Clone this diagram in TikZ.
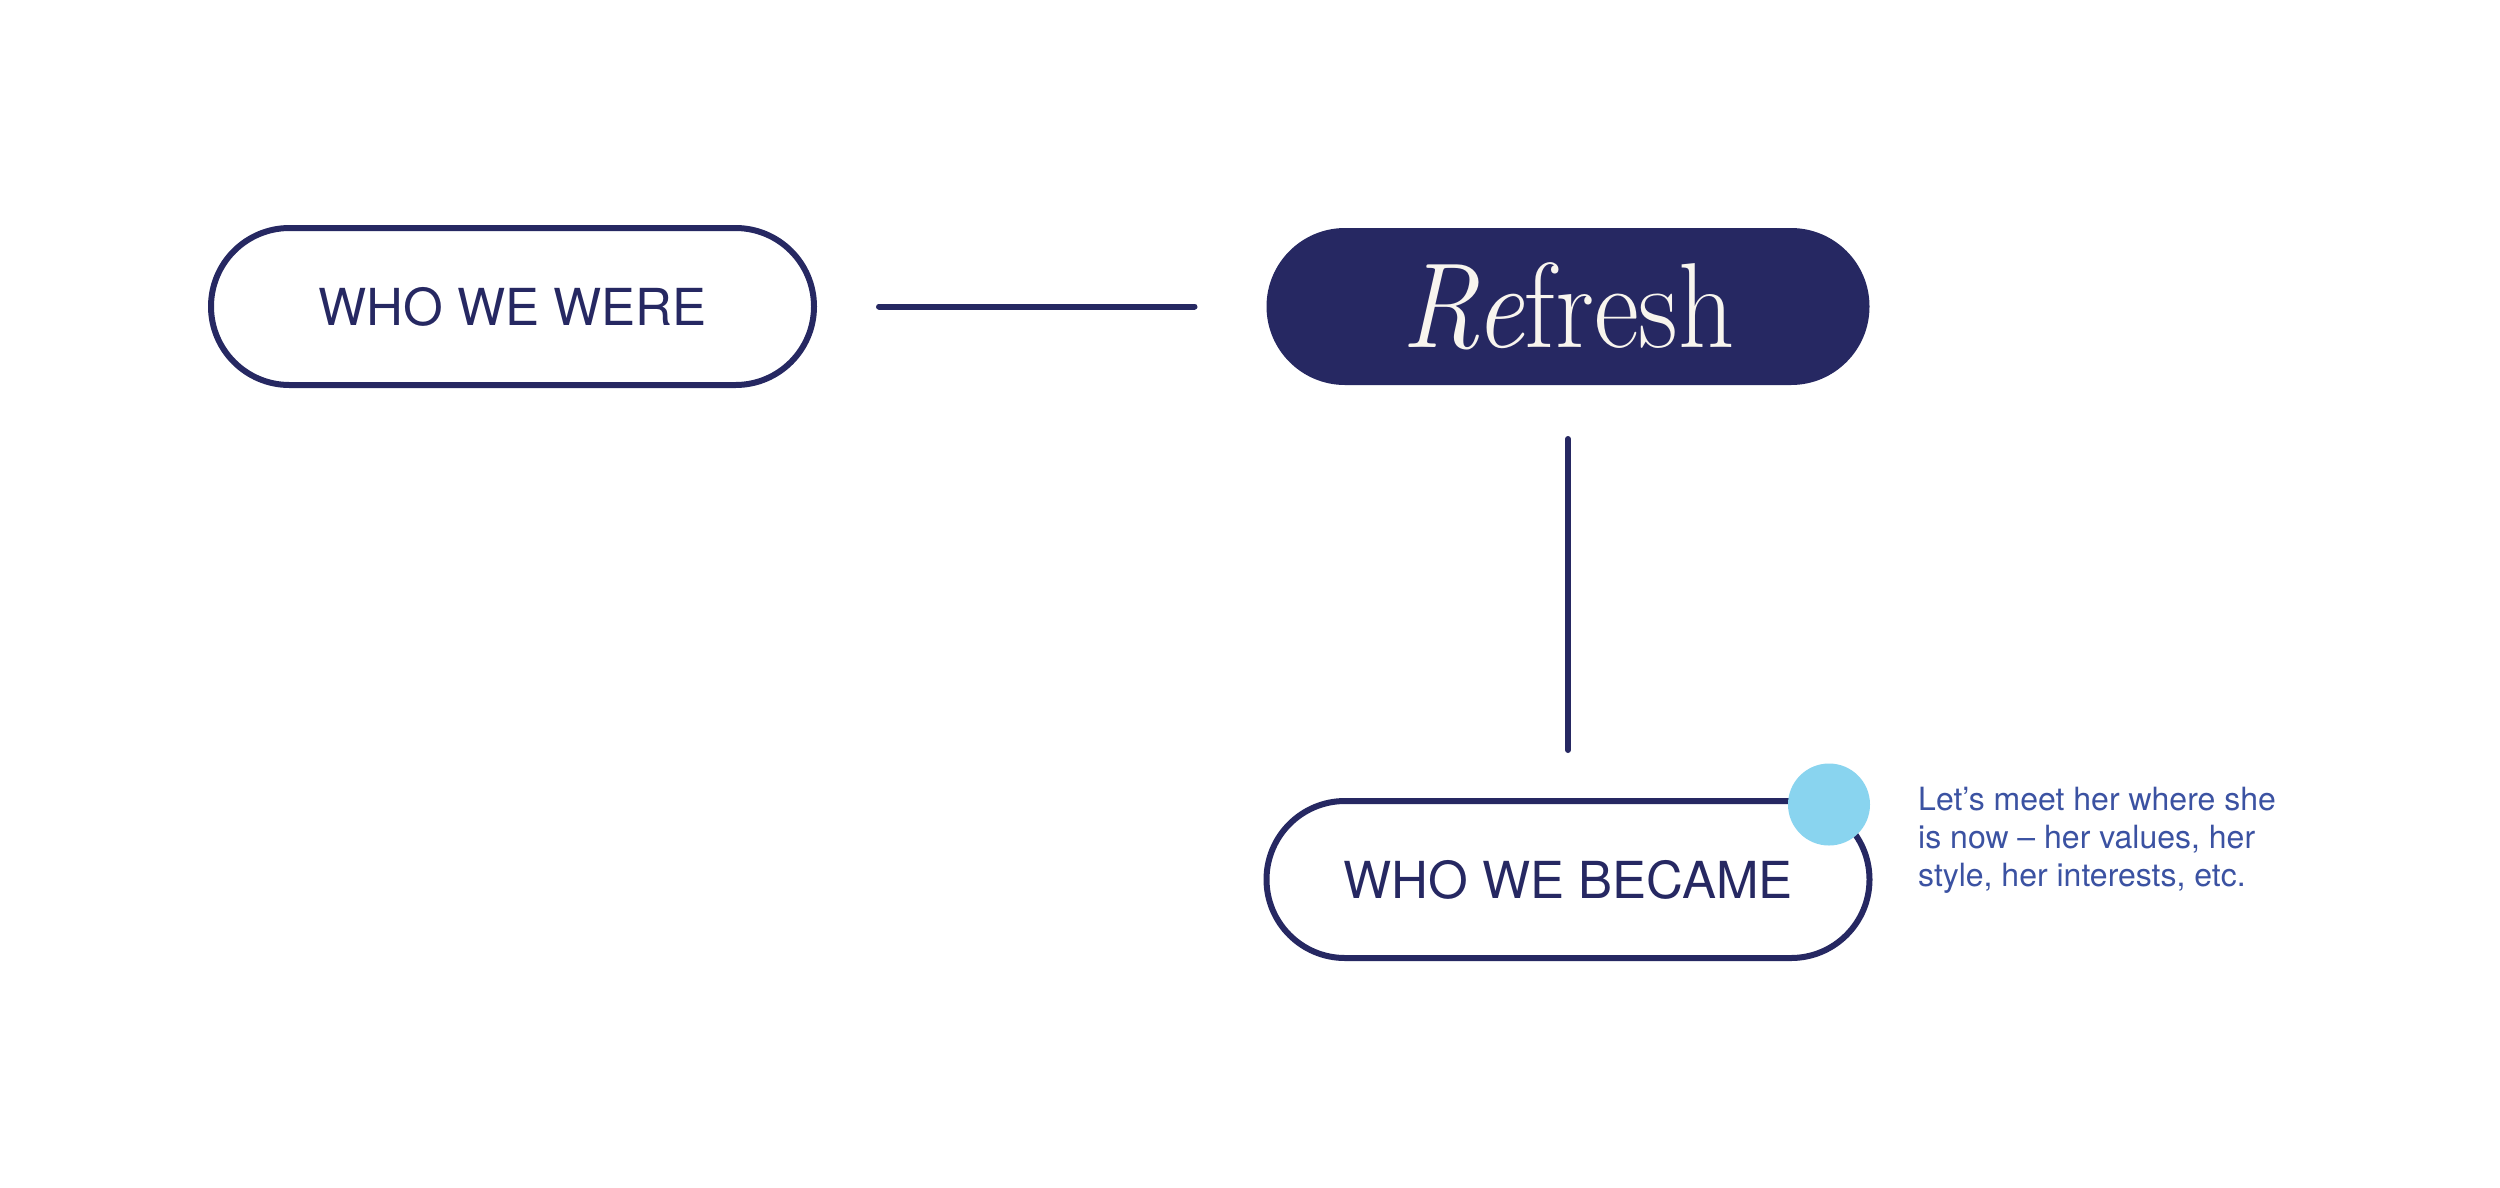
\documentclass[tikz,border=0pt]{standalone}
\usepackage{fontspec}
\setsansfont{TeX Gyre Heros}
\newfontfamily\notefont{TeX Gyre Heros}
\definecolor{navy}{RGB}{38,40,98}
\definecolor{skyblue}{RGB}{137,212,239}
\definecolor{noteblue}{RGB}{59,82,162}
\definecolor{cream}{RGB}{248,245,238}
\tikzset{
  pill/.style={rectangle, rounded corners=78.5pt, minimum width=603pt, minimum height=157pt,
    inner sep=0pt, outer sep=0pt, line width=6pt},
  pillline/.style={pill, draw=navy, fill=white, text=navy,
    font=\sffamily\fontsize{51}{60}\selectfont},
  pillfill/.style={pill, fill=navy, text=cream},
  conn/.style={draw=navy, line width=6pt, line cap=round},
  dot/.style={circle, fill=skyblue, minimum size=82pt, inner sep=0pt, outer sep=0pt},
  note/.style={anchor=north west, inner sep=0pt, align=left, text=noteblue,
    font=\notefont\fontsize{32}{38}\selectfont}
}
\begin{document}
\begin{tikzpicture}[x=1pt,y=-1pt]
  \fill[white] (0,0) rectangle (2500,1187);
  \useasboundingbox (0,0) rectangle (2500,1187);
  \node[pillline] (were) at (512.5,306.5) {WHO WE WERE};
  \node[pillfill] (refresh) at (1568,306.5) {\scalebox{0.91}[1]{\fontsize{121}{121}\selectfont\textit{Re}fresh}};
  \node[pillline] (became) at (1568,879.5) {WHO WE BECAME};
  \node[dot] (dot) at (1829,804.5) {};
  \node[note] (note) at (1918,787) {Let’s meet her where she\\is now – her values, her\\style, her interests, etc.};
  \draw[conn, shorten <=65pt, shorten >=72pt] (were.east) -- (refresh.west);
  \draw[conn, shorten <=54pt, shorten >=51pt] (refresh.south) -- (refresh.south |- became.north);
\end{tikzpicture}
\end{document}
